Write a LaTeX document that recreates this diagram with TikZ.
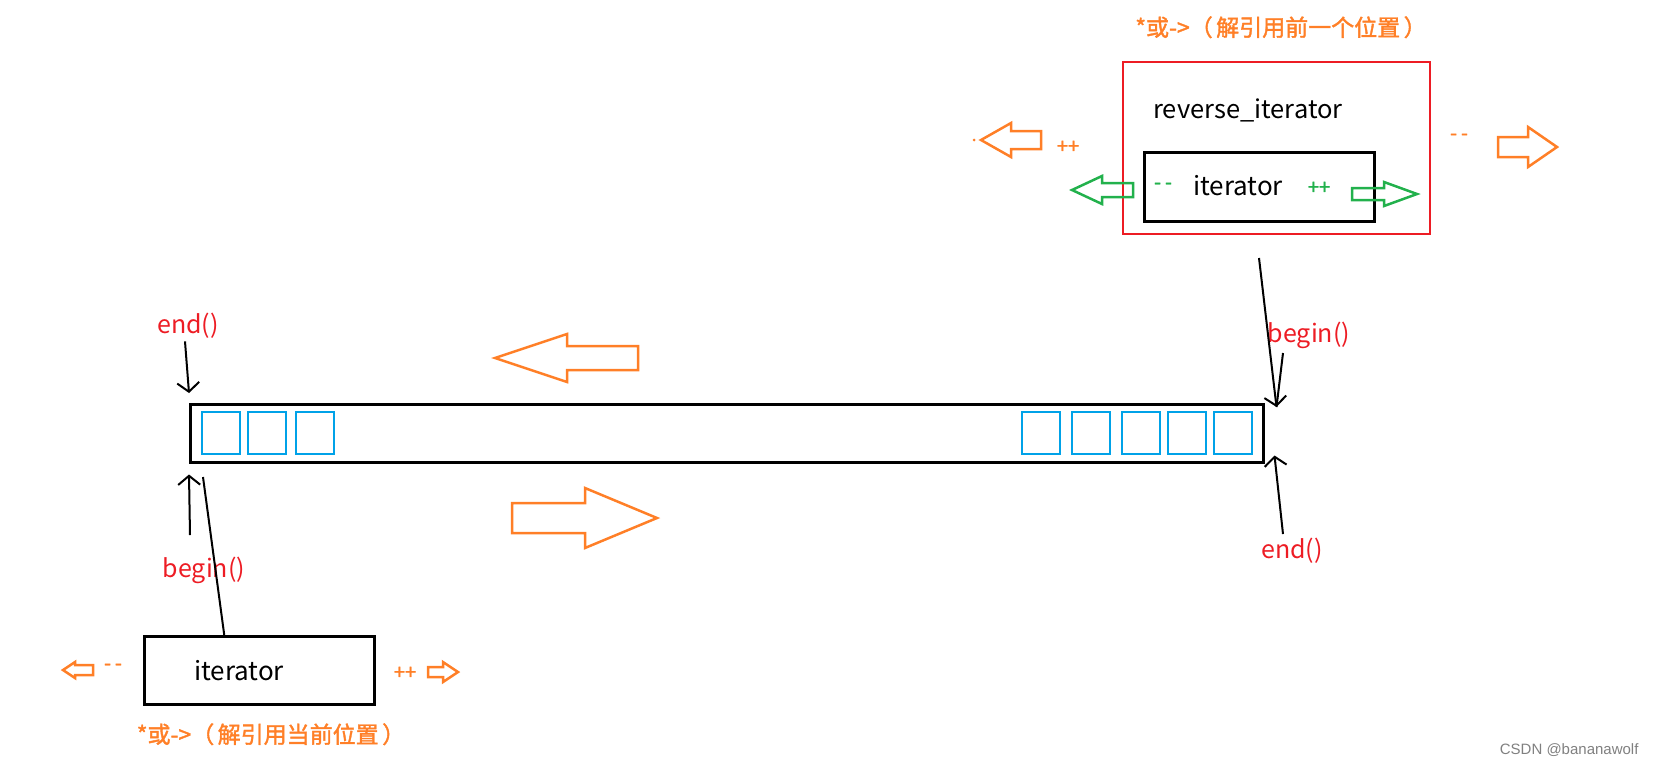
\documentclass[tikz,border=0pt]{standalone}
\usepackage{fontspec}
\setmainfont{Noto Sans CJK SC}
\newfontfamily\markfont{Liberation Sans}
\newfontfamily\notefont[FakeBold=1.6]{Noto Sans CJK SC}
\usetikzlibrary{arrows.meta,positioning}

\definecolor{paintorange}{HTML}{FF7F27}
\definecolor{paintred}{HTML}{ED1C24}
\definecolor{paintgreen}{HTML}{22B14C}
\definecolor{paintblue}{HTML}{00A2E8}

% hollow block arrow: [style]{tail x}{neck x}{tip x}{y}{shaft half}{head half}
\newcommand{\harrow}[7][]{%
  \draw[#1] ({#2},{#5-#6}) -- ({#3},{#5-#6}) -- ({#3},{#5-#7}) -- ({#4},{#5})
    -- ({#3},{#5+#7}) -- ({#3},{#5+#6}) -- ({#2},{#5+#6}) -- cycle;}
\newcommand{\dec}{-\hspace{0.2em}-}
\newcommand{\deref}[1]{*或->（\hspace{0.15em}#1\hspace{0.15em}）}

\tikzset{
  box/.style={draw, line width=2.5pt, inner sep=0pt, anchor=north west},
  cell/.style={draw=paintblue, line width=2pt, inner sep=0pt,
    minimum width=38pt, minimum height=42pt, anchor=north west},
  wire/.style={line width=2pt},
  ptr/.style={wire, -{Straight Barb[length=9pt,width=22pt]}},
  lbl/.style={text=paintred, anchor=base, font=\fontsize{25}{29}\selectfont},
  title/.style={anchor=base, font=\fontsize{26}{30}\selectfont},
  note/.style={text=paintorange, anchor=base, font=\notefont\fontsize{23}{27}\selectfont},
  op/.style={font=\notefont\fontsize{20}{24}\selectfont},
  orangearr/.style={draw=paintorange, line width=2.5pt},
  greenarr/.style={draw=paintgreen, line width=2.5pt}
}

\begin{document}
\begin{tikzpicture}[x=1pt, y=-1pt]
    \useasboundingbox (0,0) rectangle (1657,764);

    % reverse_iterator wrapping an iterator
    \node[box, draw=paintred, line width=2pt, minimum width=307pt, minimum height=172pt] (rev) at (1122,61) {};
    \node[box, minimum width=230pt, minimum height=69pt] (inner) at (1143,151) {};
    \node[title, font=\fontsize{25.5}{30}\selectfont] (revT) at (1248,118) {reverse\_iterator};
    \node[title] (innerT) at (1238,195) {iterator};
    \node[note] (revNote) at (1281,36) {\deref{解引用前一个位置}};

    \harrow[orangearr]{1041}{1011}{981}{140}{9}{17}
    \fill[paintorange] (974,140) circle (1.5pt);
    \node[op, text=paintorange] (revInc) at (1068,147) {++};
    \node[op, text=paintorange] (revDec) at (1459,137) {\dec};
    \harrow[orangearr]{1498}{1528}{1557}{147}{10}{20}

    \harrow[greenarr]{1133}{1102}{1072}{190}{7}{14}
    \node[op, text=paintgreen] (inDec) at (1163,186) {\dec};
    \node[op, text=paintgreen] (inInc) at (1319,188) {++};
    \harrow[greenarr]{1352}{1384}{1417}{194}{6}{12}

    % the container
    \node[box, minimum width=1073pt, minimum height=58pt] (arr) at (189,403) {};
    \foreach \x in {201,247,295}
        \node[cell] (cellL\x) at (\x,411) {};
    \foreach \x in {1021,1071,1121,1167,1213}
        \node[cell] (cellR\x) at (\x,411) {};

    % traversal directions
    \harrow[orangearr]{638}{567}{495}{358}{12}{24}
    \harrow[orangearr]{512}{585}{657}{518}{15}{30}

    % begin/end of the iterator
    \node[lbl] (endL) at (188,333) {end()};
    \node[lbl] (beginL) at (204,577) {begin()};
    \coordinate (bL) at (190,535);
    \coordinate (bLtop) at (203,477);
    \draw[ptr] ([xshift=-3pt]endL.south) -- ([yshift=10pt]arr.north west);
    \draw[ptr] (bL) -- ([yshift=-11pt]arr.south west);

    % begin/end of the reverse_iterator
    \node[lbl] (beginR) at (1309,342) {begin()};
    \node[lbl] (endR) at (1292,558) {end()};
    \coordinate (rbTop) at (1259,258);
    \coordinate (rbTick) at (1283,353);
    \draw[ptr] (rbTop) -- ([xshift=12pt,yshift=-4pt]arr.north east);
    \draw[wire] (rbTick) -- ([xshift=12pt,yshift=-4pt]arr.north east);
    \draw[ptr] ([xshift=-9pt]endR.north) -- ([xshift=10pt,yshift=8pt]arr.south east);

    % plain iterator
    \node[box, minimum width=230pt, minimum height=68pt] (it) at (143,635) {};
    \node[title] (itT) at (239,680) {iterator};
    \draw[wire] ([xshift=-35pt]it.north) -- (bLtop);
    \node[note] (itNote) at (271,743) {\deref{解引用当前位置}};

    \harrow[orangearr]{93}{75}{63}{670}{5}{8}
    \node[op, text=paintorange] (itDec) at (113,667) {\dec};
    \node[op, text=paintorange] (itInc) at (405,673) {++};
    \harrow[orangearr]{428}{443}{458}{672}{5}{10}

    \node[anchor=base east, text=gray, font=\markfont\fontsize{15}{18}\selectfont] (mark) at (1642,754) {CSDN @bananawolf};
\end{tikzpicture}
\end{document}
